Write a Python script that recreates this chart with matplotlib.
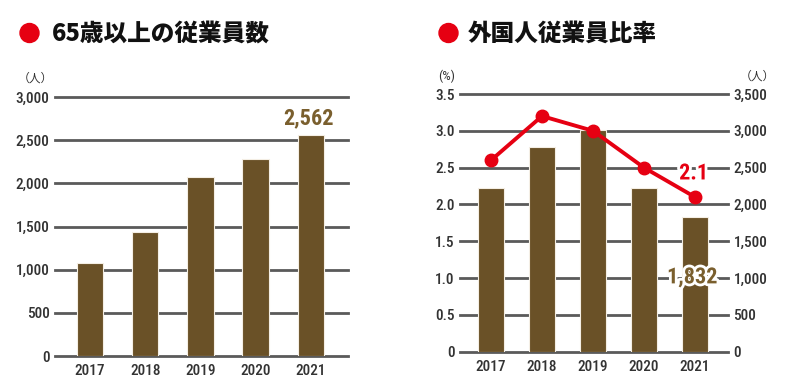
import matplotlib
matplotlib.use("Agg")
import matplotlib.pyplot as plt
import matplotlib.patheffects as pe
from matplotlib.patches import Ellipse
from matplotlib import font_manager

years = ["2017", "2018", "2019", "2020", "2021"]
senior_counts = [1080, 1440, 2070, 2280, 2562]
foreign_counts = [2230, 2780, 3010, 2230, 1832]
foreign_ratio = [2.6, 3.2, 3.0, 2.5, 2.1]

left_title = "65歳以上の従業員数"
right_title = "外国人従業員比率"
left_yticks = [0, 500, 1000, 1500, 2000, 2500, 3000]
ratio_ticks = [0, 0.5, 1.0, 1.5, 2.0, 2.5, 3.0, 3.5]
count_ticks = [0, 500, 1000, 1500, 2000, 2500, 3000, 3500]

fl = font_manager.fontManager.ttflist
names = {f.name for f in fl}
STRETCH = "normal"
NUM_SIZE = 9.5
if "Roboto Condensed" in names:
    NUMF = ["Roboto Condensed", "DejaVu Sans"]
    NUM_SIZE = 11
elif "Liberation Sans Narrow" in names:
    NUMF = ["Liberation Sans Narrow", "DejaVu Sans"]
    NUM_SIZE = 11
elif any(f.name == "DejaVu Sans" and f.stretch == "condensed" for f in fl):
    NUMF = ["DejaVu Sans"]
    STRETCH = "condensed"
    NUM_SIZE = 10
else:
    NUMF = ["DejaVu Sans"]
CJK = ["Noto Sans CJK JP", "DejaVu Sans"]

BROWN = "#6a5127"
LABEL_BROWN = "#7a5f2e"
RED = "#e60012"
GRID = "#5a5a5a"
TXT = "#333333"

fig = plt.figure(figsize=(8, 3.88), dpi=100)

def fx(px):
    return px / 800.0

def fy(py):
    return 1 - py / 388.0

def numfont(lab, size=None):
    lab.set_fontfamily(NUMF)
    lab.set_fontsize(size or NUM_SIZE)
    lab.set_fontstretch(STRETCH)
    lab.set_fontweight("medium")
    lab.set_color(TXT)

def clean(ax):
    for s in ax.spines.values():
        s.set_visible(False)

x = list(range(len(years)))

# ---- left chart ----
axL = fig.add_axes([fx(55), fy(356), fx(293), fy(97) - fy(356)])
axL.bar(x, senior_counts, width=0.48, color=BROWN, edgecolor="#f4eee4", linewidth=0.8, zorder=2)
axL.set_xlim(-0.633, 4.67)
axL.set_ylim(0, 3000)
clean(axL)
for t in left_yticks:
    axL.axhline(t, color=GRID, lw=2.0, zorder=1, clip_on=False)
axL.set_xticks(x)
axL.set_xticklabels(years)
axL.set_yticks(left_yticks)
axL.set_yticklabels([f"{v:,}" for v in left_yticks])
axL.tick_params(axis="y", length=0, pad=4)
axL.tick_params(axis="x", length=0, pad=6)
for lab in axL.get_xticklabels() + axL.get_yticklabels():
    numfont(lab)
axL.annotate(f"{senior_counts[-1]:,}", (4, senior_counts[-1]), xytext=(-2, 12), textcoords="offset points",
             ha="center", va="center", fontfamily=NUMF, fontstretch=STRETCH, fontsize=16,
             color=LABEL_BROWN, fontweight="bold", zorder=5)
fig.text(fx(53), fy(78), "（人）", fontfamily=CJK, fontsize=8.5, color=TXT, ha="right", va="center")

# ---- right chart ----
rect = [fx(460), fy(351.7), fx(268), fy(94) - fy(351.7)]
axB = fig.add_axes(rect)          # counts: bars + grid, right ticks
axB.set_zorder(1)
axB.set_ylim(0, 3500)
axB.set_xlim(-0.608, 4.647)
clean(axB)
for t in count_ticks:
    axB.axhline(t, color=GRID, lw=2.0, zorder=1, clip_on=False)
axB.bar(x, foreign_counts, width=0.52, color=BROWN, edgecolor="#f4eee4", linewidth=0.8, zorder=2)
axB.yaxis.tick_right()
axB.set_yticks(count_ticks)
axB.set_yticklabels([f"{v:,}" for v in count_ticks])
axB.set_xticks(x)
axB.set_xticklabels(years)
axB.tick_params(axis="y", length=0, pad=4)
axB.tick_params(axis="x", length=0, pad=6)
for lab in axB.get_xticklabels() + axB.get_yticklabels():
    numfont(lab)

axP = fig.add_axes(rect)          # ratio: line, left ticks
axP.set_zorder(2)
axP.patch.set_visible(False)
axP.set_ylim(0, 3.5)
axP.set_xlim(-0.608, 4.647)
clean(axP)
axP.set_xticks([])
axP.set_yticks(ratio_ticks)
axP.set_yticklabels(["0" if v == 0 else f"{v:.1f}" for v in ratio_ticks])
axP.tick_params(axis="y", length=0, pad=4)
for lab in axP.get_yticklabels():
    numfont(lab)
axP.plot(x, foreign_ratio, color=RED, lw=2.8, marker="o", markersize=9, zorder=4, clip_on=False)
halo = [pe.withStroke(linewidth=4, foreground="white")]
axP.annotate(f"{foreign_ratio[-1]:.1f}", (4, foreign_ratio[-1]), xytext=(-1, 17), textcoords="offset points",
             ha="center", va="center", fontfamily=NUMF, fontstretch=STRETCH, fontsize=16, color=RED,
             fontweight="bold", path_effects=halo, zorder=6)
axP.annotate(f"{foreign_counts[-1]:,}", (4, 1.0), xytext=(-2, 0.5), textcoords="offset points",
             ha="center", va="center", fontfamily=NUMF, fontstretch=STRETCH, fontsize=16, color=LABEL_BROWN,
             fontweight="bold", path_effects=halo, zorder=6)
fig.text(fx(447), fy(76), "(%)", fontfamily=NUMF, fontstretch=STRETCH, fontsize=9.5, color=TXT,
         ha="center", va="center")
fig.text(fx(757), fy(76), "（人）", fontfamily=CJK, fontsize=8.5, color=TXT, ha="center", va="center")

# ---- titles ----
for cx, tx, title in [(29.5, 52, left_title), (448.5, 468, right_title)]:
    fig.add_artist(Ellipse((fx(cx), fy(33)), fx(19), 19 / 388.0, transform=fig.transFigure,
                           color=RED, zorder=10))
    fig.text(fx(tx), fy(33), title, fontfamily=CJK, fontsize=17, fontweight="heavy",
             color="#111111", ha="left", va="center")

fig.savefig("out.png", dpi=100)
